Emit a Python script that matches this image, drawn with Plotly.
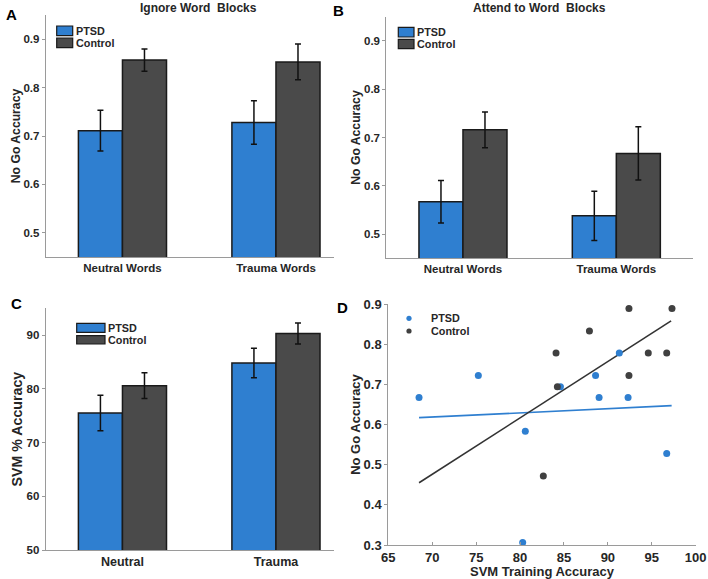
import plotly.graph_objects as go

# ---------------- data ----------------
word_categories = ["Neutral Words", "Trauma Words"]
svm_categories = ["Neutral", "Trauma"]
groups = ["PTSD", "Control"]

# Panel A: Ignore Word Blocks (No Go accuracy)
ignore_ptsd = [0.711, 0.728]
ignore_ptsd_err = [0.042, 0.045]
ignore_control = [0.857, 0.853]
ignore_control_err = [0.023, 0.037]

# Panel B: Attend to Word Blocks (No Go accuracy)
attend_ptsd = [0.567, 0.538]
attend_ptsd_err = [0.044, 0.051]
attend_control = [0.716, 0.667]
attend_control_err = [0.037, 0.055]

# Panel C: SVM % accuracy
svm_ptsd = [75.5, 84.8]
svm_ptsd_err = [3.3, 2.75]
svm_control = [80.6, 90.3]
svm_control_err = [2.4, 1.95]

# Panel D: scatter SVM training accuracy vs No Go accuracy
ptsd_svm = [68.5, 75.25, 80.6, 80.3, 84.6, 88.6, 89.0, 91.3, 92.3, 96.7]
ptsd_nogo = [0.667, 0.722, 0.583, 0.306, 0.694, 0.722, 0.667, 0.778, 0.667, 0.528]
control_svm = [92.4, 97.3, 87.9, 84.1, 94.6, 96.7, 92.4, 84.25, 82.65]
control_nogo = [0.889, 0.889, 0.833, 0.778, 0.778, 0.778, 0.722, 0.694, 0.472]
# fitted lines (endpoints)
ptsd_fit_x = [68.5, 97.26]
ptsd_fit_y = [0.617, 0.647]
control_fit_x = [68.5, 97.2]
control_fit_y = [0.455, 0.858]

# ---------------- style ----------------
W, H = 708, 579
BLUE = "#2f7fd0"
GRAY = "#4a4a4a"
EDGE = "#1a1a1a"
TXT = "#262626"
AX = "#9a9a9a"
FONT = "Liberation Sans"


def fx(p):
    return p / W


def fy(p):
    return 1 - p / H


fig = go.Figure()


def bar_pair(cats, pv, pe, cv, ce, xa, ya):
    for name, vals, errs, col in [("PTSD", pv, pe, BLUE), ("Control", cv, ce, GRAY)]:
        fig.add_trace(go.Bar(
            x=cats, y=vals, name=name, xaxis=xa, yaxis=ya, showlegend=False,
            marker=dict(color=col, line=dict(color=EDGE, width=1.5)),
            error_y=dict(type="data", array=errs, color="#111111", thickness=1.5, width=3),
        ))


bar_pair(word_categories, ignore_ptsd, ignore_ptsd_err, ignore_control, ignore_control_err, "x", "y")
bar_pair(word_categories, attend_ptsd, attend_ptsd_err, attend_control, attend_control_err, "x2", "y2")
bar_pair(svm_categories, svm_ptsd, svm_ptsd_err, svm_control, svm_control_err, "x3", "y3")

# Panel D
fig.add_trace(go.Scatter(x=ptsd_fit_x, y=ptsd_fit_y, mode="lines", xaxis="x4", yaxis="y4",
                         line=dict(color=BLUE, width=1.6), showlegend=False))
fig.add_trace(go.Scatter(x=control_fit_x, y=control_fit_y, mode="lines", xaxis="x4", yaxis="y4",
                         line=dict(color="#333333", width=1.6), showlegend=False))
fig.add_trace(go.Scatter(x=ptsd_svm, y=ptsd_nogo, mode="markers", name="PTSD", xaxis="x4", yaxis="y4",
                         marker=dict(color=BLUE, size=7), cliponaxis=False, showlegend=False))
fig.add_trace(go.Scatter(x=control_svm, y=control_nogo, mode="markers", name="Control", xaxis="x4", yaxis="y4",
                         marker=dict(color="#404040", size=7), cliponaxis=False, showlegend=False))


def tf(size):
    return dict(family=FONT, size=size, color=TXT, weight="bold")


def xcat(domain, rng, anchor, fsize):
    return dict(domain=domain, range=rng, type="category", anchor=anchor, showline=True, linecolor=AX,
                linewidth=1, ticks="", tickfont=tf(fsize), showgrid=False, zeroline=False, fixedrange=True,
                automargin=False)


def ynum(domain, rng, tickvals, anchor, title, fsize, tsize, standoff, fmt=None):
    d = dict(domain=domain, range=rng, anchor=anchor, showline=True, linecolor=AX, linewidth=1,
             ticks="outside", ticklen=3, tickcolor=AX, tickvals=tickvals, tickfont=tf(fsize),
             showgrid=False, zeroline=False, automargin=False,
             title=dict(text=title, font=tf(tsize), standoff=standoff))
    if fmt:
        d["tickformat"] = fmt
    return d


fig.update_layout(
    width=W, height=H, margin=dict(l=0, r=0, t=0, b=0),
    paper_bgcolor="white", plot_bgcolor="white",
    barmode="group", bargap=0.426, bargroupgap=0,
    xaxis=xcat([fx(45.7), fx(334.3)], [-0.5, 1.38], "y", 11.5),
    yaxis=ynum([fy(257), fy(15)], [0.45, 0.95], [0.5, 0.6, 0.7, 0.8, 0.9], "x", "No Go Accuracy",
               11.5, 12.2, 0, ".1f"),
    xaxis2=xcat([fx(386.3), fx(693)], [-0.5, 1.5], "y2", 11.5),
    yaxis2=ynum([fy(258.3), fy(16.7)], [0.45, 0.95], [0.5, 0.6, 0.7, 0.8, 0.9], "x2", "No Go Accuracy",
                11.5, 12.2, 0, ".1f"),
    xaxis3=xcat([fx(45.7), fx(334.3)], [-0.5, 1.38], "y3", 12.5),
    yaxis3=ynum([fy(550), fy(308.3)], [50, 95], [50, 60, 70, 80, 90], "x3", "SVM % Accuracy",
                11.5, 14.2, 0),
    xaxis4=dict(domain=[fx(388.3), fx(695.7)], range=[65, 100], anchor="y4", showline=True, linecolor=AX,
                ticks="inside", ticklen=3, tickcolor=AX, dtick=5, tick0=65, tickfont=tf(13),
                showgrid=False, zeroline=False, automargin=False,
                title=dict(text="SVM Training Accuracy", font=tf(13), standoff=0)),
    yaxis4=ynum([fy(545), fy(304)], [0.3, 0.9], [0.3, 0.4, 0.5, 0.6, 0.7, 0.8, 0.9], "x4", "No Go Accuracy",
                13, 13, 0, ".1f"),
    font=dict(family=FONT, color=TXT),
)

ann = []
shapes = []

# panel letters
for txt, x, y in [("A", 11, 14), ("B", 338, 10), ("C", 16, 303), ("D", 342, 307)]:
    ann.append(dict(text=txt, x=fx(x), y=fy(y), xref="paper", yref="paper", showarrow=False,
                    xanchor="center", yanchor="middle", font=dict(family=FONT, size=15, color="black", weight="bold")))

# panel titles
for txt, x, y in [("Ignore Word\u00a0 Blocks", 198.7, 8), ("Attend to Word\u00a0 Blocks", 539.5, 8)]:
    ann.append(dict(text=txt, x=fx(x), y=fy(y), xref="paper", yref="paper", showarrow=False,
                    xanchor="center", yanchor="middle", font=tf(12)))

legfont = tf(10.8)


def box_legend(x0, x1, boxes, tx):
    for (name, col), (y0, y1) in zip([("PTSD", BLUE), ("Control", GRAY)], boxes):
        shapes.append(dict(type="rect", xref="paper", yref="paper", x0=fx(x0), x1=fx(x1), y0=fy(y1), y1=fy(y0),
                           fillcolor=col, line=dict(color=EDGE, width=1.2)))
        ann.append(dict(text=name, x=fx(tx), y=fy((y0 + y1) / 2), xref="paper", yref="paper", showarrow=False,
                        xanchor="left", yanchor="middle", font=legfont))


box_legend(56.7, 72.7, [(26, 35.7), (38, 47.7)], 73.5)
box_legend(398.3, 414, [(27.3, 37), (39.3, 48.7)], 414.5)
box_legend(76.7, 105, [(323.3, 332.3), (335.7, 344)], 106)

# panel D legend
for (name, col), cy in zip([("PTSD", BLUE), ("Control", "#404040")], [318.3, 331]):
    r = 2.6
    shapes.append(dict(type="circle", xref="paper", yref="paper", x0=fx(409 - r), x1=fx(409 + r),
                       y0=fy(cy + r), y1=fy(cy - r), fillcolor=col, line=dict(width=0)))
    ann.append(dict(text=name, x=fx(429), y=fy(cy), xref="paper", yref="paper", showarrow=False,
                    xanchor="left", yanchor="middle", font=legfont))

fig.update_layout(annotations=ann, shapes=shapes)
fig.write_html("out.html", config={"displayModeBar": False},
               post_script="document.body.style.margin='0px';")
